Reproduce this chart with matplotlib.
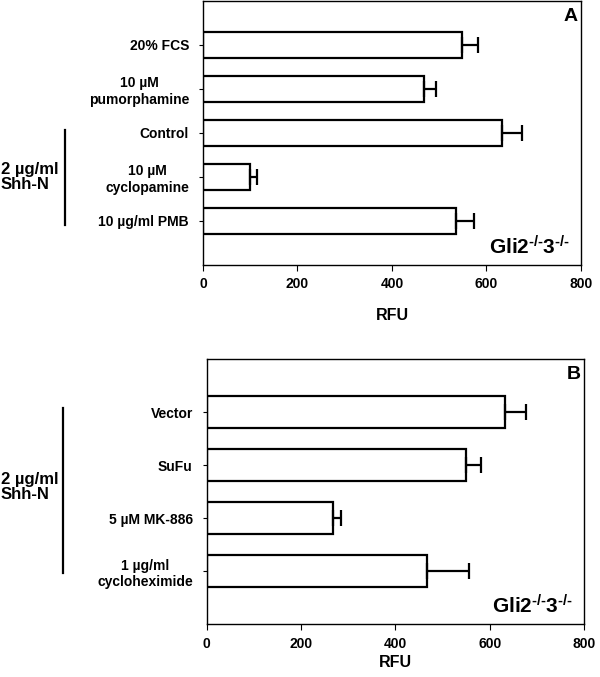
import numpy as np
import matplotlib.pyplot as plt

plt.rcParams['font.family'] = ['Liberation Sans', 'DejaVu Sans']
plt.rcParams['font.weight'] = 'bold'
plt.rcParams['mathtext.fontset'] = 'custom'
plt.rcParams['mathtext.rm'] = 'Liberation Sans:bold'
plt.rcParams['mathtext.bf'] = 'Liberation Sans:bold'
plt.rcParams['mathtext.it'] = 'Liberation Sans:bold'

# panel A
labels_a = ['20% FCS', '10 µM\npumorphamine', 'Control', '10 µM\ncyclopamine', '10 µg/ml PMB']
values_a = [549, 468, 632, 99, 536]
errors_a = [34, 25, 44, 15, 37]

# panel B
labels_b = ['Vector', 'SuFu', '5 µM MK-886', '1 µg/ml\ncycloheximide']
values_b = [632, 549, 268, 467]
errors_b = [44, 33, 17, 89]

fig = plt.figure(figsize=(6.0, 6.77), dpi=100)


def panel(ax, labels, values, errors, letter):
    y = np.arange(len(labels))
    ax.barh(y, values, height=0.6, color='white', edgecolor='black', linewidth=1.6)
    ax.errorbar(values, y, xerr=[np.zeros(len(values)), errors], fmt='none',
                ecolor='black', elinewidth=1.6, capsize=6, capthick=1.6)
    ax.set_ylim(len(labels), -1)
    ax.set_xlim(0, 800)
    ax.set_xticks([0, 200, 400, 600, 800])
    ax.set_yticks(y)
    ax.set_yticklabels(labels, fontsize=10, fontweight='bold', ha='right')
    for t in ax.get_yticklabels():
        t.set_multialignment('center')
    ax.tick_params(axis='y', pad=7, length=3, direction='out')
    ax.tick_params(axis='x', labelsize=10, length=4, direction='out', pad=5)
    for t in ax.get_xticklabels():
        t.set_fontweight('bold')
    for s in ax.spines.values():
        s.set_linewidth(1.0)
    ax.text(0.99, 0.94, letter, transform=ax.transAxes, ha='right', va='center',
            fontsize=14, fontweight='bold')
    ax.text(0.97, 0.07, r'Gli2$^{\text{-/-}}$3$^{\text{-/-}}$', transform=ax.transAxes,
            ha='right', va='center', fontsize=15, fontweight='bold')


ax_a = fig.add_axes([0.3383, 0.6086, 0.63, 0.39])
panel(ax_a, labels_a, values_a, errors_a, 'A')
ax_a.set_xlabel('RFU', fontsize=11.5, fontweight='bold', labelpad=12)

ax_b = fig.add_axes([0.3445, 0.0778, 0.6293, 0.3919])
panel(ax_b, labels_b, values_b, errors_b, 'B')
ax_b.set_xlabel('RFU', fontsize=11.5, fontweight='bold', labelpad=3)

# bracket for Shh-N treated groups
fig.add_artist(plt.Line2D([64.7 / 600, 64.7 / 600], [1 - 130 / 677, 1 - 225 / 677],
                          color='black', linewidth=1.6))
fig.text(1 / 600, 1 - 177 / 677, '2 µg/ml\nShh-N', ha='left', va='center',
         fontsize=12, fontweight='bold', linespacing=1.05)
fig.add_artist(plt.Line2D([62.7 / 600, 62.7 / 600], [1 - 408 / 677, 1 - 573 / 677],
                          color='black', linewidth=1.6))
fig.text(1 / 600, 1 - 487 / 677, '2 µg/ml\nShh-N', ha='left', va='center',
         fontsize=12, fontweight='bold', linespacing=1.05)

fig.savefig('out.png', dpi=100)
